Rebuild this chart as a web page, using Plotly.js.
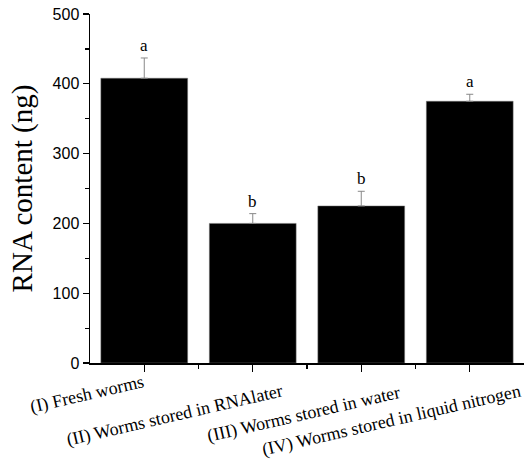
<!DOCTYPE html>
<html>
<head>
<meta charset="utf-8">
<script src="https://cdn.plot.ly/plotly-3.0.1.min.js"></script>
<style>html,body{margin:0;padding:0;background:#fff;}#chart{width:525px;height:466px;}</style>
</head>
<body>
<div id="chart"></div>
<script>
const categories = ["(I) Fresh worms", "(II) Worms stored in RNAlater", "(III) Worms stored in water", "(IV) Worms stored in liquid nitrogen"];
const rnaContent = [408, 200, 225, 375];
const errorValues = [29, 14, 21, 10];
const letters = ["a", "b", "b", "a"];
const yTicks = [0, 100, 200, 300, 400, 500];

// style: pixel offsets of the slanted category labels (centre of each label relative to its tick)
const labelShiftX = [-57, -78, -58, -78];
const labelShiftY = [-31, -52, -51, -57];

const xs = categories.map((c, i) => i);

const trace = {
  type: "bar",
  x: xs,
  y: rnaContent,
  width: 0.8,
  marker: {color: "#000", line: {color: "#777", width: 0.5}},
  error_y: {type: "data", array: errorValues, symmetric: false, arrayminus: errorValues.map(() => 0), color: "#888", thickness: 1, width: 3.5},
  hoverinfo: "none"
};

const letterAnnotations = letters.map((t, i) => ({
  x: i, y: rnaContent[i] + errorValues[i], text: t, showarrow: false,
  yanchor: "bottom", yshift: 1,
  font: {family: "Liberation Serif", size: 17, color: "#000"}
}));

const labelAnnotations = categories.map((c, i) => ({
  x: i, xref: "x", y: 0, yref: "paper", text: c, showarrow: false,
  textangle: -13, xanchor: "center", yanchor: "middle",
  xshift: labelShiftX[i], yshift: labelShiftY[i],
  font: {family: "Liberation Serif", size: 18, color: "#000"}
}));

const layout = {
  width: 525, height: 466,
  margin: {l: 90, r: 1, t: 14, b: 103},
  paper_bgcolor: "#fff", plot_bgcolor: "#fff",
  showlegend: false,
  xaxis: {
    range: [-0.5, 3.5],
    tickvals: xs, showticklabels: false,
    ticks: "outside", ticklen: 7, tickwidth: 1.2, tickcolor: "#000",
    minor: {tickvals: [0.5, 1.5, 2.5], ticks: "outside", ticklen: 4, tickwidth: 1.2, tickcolor: "#000"},
    showline: true, linecolor: "#000", linewidth: 1.5,
    showgrid: false, zeroline: false
  },
  yaxis: {
    range: [0, 500],
    tickvals: yTicks,
    ticks: "outside", ticklen: 6, tickwidth: 1.2, tickcolor: "#000",
    minor: {dtick: 50, ticks: "outside", ticklen: 4, tickwidth: 1.2, tickcolor: "#000"},
    showline: true, linecolor: "#000", linewidth: 1.5,
    showgrid: false, zeroline: false,
    tickfont: {family: "Liberation Sans", size: 16, color: "#000"},
    title: {text: "RNA content (ng)", font: {family: "Liberation Serif", size: 29, color: "#000"}, standoff: 11}
  },
  annotations: letterAnnotations.concat(labelAnnotations)
};

Plotly.newPlot("chart", [trace], layout, {staticPlot: true, displayModeBar: false});
</script>
</body>
</html>
